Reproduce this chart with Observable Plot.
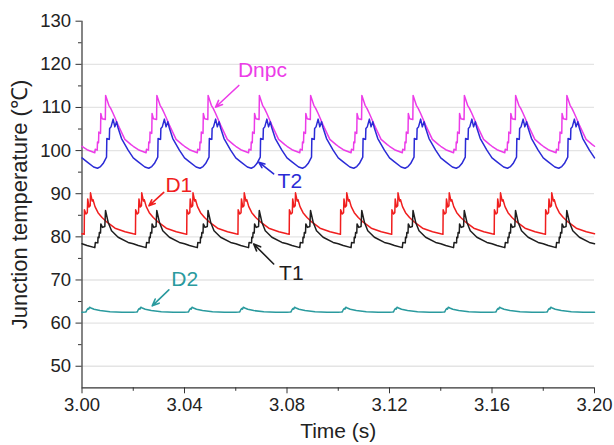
<!DOCTYPE html>
<html><head><meta charset="utf-8">
<script src="https://cdn.jsdelivr.net/npm/d3@7"></script>
<script src="https://cdn.jsdelivr.net/npm/@observablehq/plot@0.6"></script>
<style>body{margin:0;background:#fff;} svg{display:block;}</style>
</head><body><div id="chart"></div>
<script>
// ---- data ----
const cycleStarts = [3.00, 3.02, 3.04, 3.06, 3.08, 3.10, 3.12, 3.14, 3.16, 3.18];
const tEnd = 3.20;
// one switching cycle of each junction temperature, phase in ms within the 20 ms cycle
const phaseDnpc = [0, 1.95, 5.0, 5.16, 5.94, 6.05, 6.45, 6.56, 7.23, 7.34, 7.85, 9.1, 9.22, 10.47, 11.2, 12.15, 14.1, 16.72, 19.14];
const valueDnpc = [101.0, 100.2, 99.5, 100.3, 100.1, 102.0, 101.8, 104.3, 104.0, 108.6, 107.4, 107.2, 112.8, 110.5, 109.8, 108.6, 105.9, 102.6, 101.4];
const phaseT2 = [0, 1.95, 4.53, 6.05, 7.23, 8.24, 9.57, 9.69, 10.66, 10.78, 11.33, 12.15, 12.81, 13.48, 14.06, 15.43, 18.0];
const valueT2 = [98.3, 97.4, 96.2, 95.9, 96.3, 97.0, 98.5, 102.8, 102.6, 105.1, 105.5, 107.3, 105.5, 106.7, 105.3, 102.8, 100.1];
const phaseD1 = [0, 0.86, 0.94, 1.56, 2.07, 2.23, 2.73, 3.2, 3.32, 3.98, 4.3, 5.08, 6.25, 7.81, 9.77, 12.89, 16.8];
const valueD1 = [80.7, 80.6, 86.3, 85.3, 85.6, 88.8, 86.9, 87.2, 90.2, 88.3, 88.6, 87.0, 85.6, 84.5, 83.4, 82.0, 81.2];
const phaseT1 = [0, 1.95, 5.0, 5.2, 6.17, 6.25, 6.64, 6.76, 7.23, 7.34, 8.0, 8.9, 9.18, 10.2, 11.52, 14.1, 18.0];
const valueT1 = [78.4, 78.0, 77.5, 78.7, 78.6, 79.9, 79.8, 81.0, 80.9, 83.0, 82.2, 82.4, 86.1, 83.4, 81.4, 79.9, 78.7];
const phaseD2 = [0, 1.17, 1.56, 1.95, 2.34, 2.66, 2.93, 3.52, 4.69, 7.03, 10.94, 15.6];
const valueD2 = [62.5, 62.55, 62.6, 63.1, 63.4, 63.25, 63.7, 63.5, 63.2, 62.9, 62.65, 62.5];

const seriesNames = ["Dnpc", "T2", "D1", "T1", "D2"];
const seriesColors = ["#ec3ce8", "#2b2bd6", "#f01e1e", "#1e1e1e", "#2a9a9e"];

const xTicks = [3.00, 3.04, 3.08, 3.12, 3.16, 3.20];
const xMinor = [3.02, 3.06, 3.10, 3.14, 3.18];
const yTicks = [50, 60, 70, 80, 90, 100, 110, 120, 130];
const yMinor = [55, 65, 75, 85, 95, 105, 115, 125];
const yGrid = [50, 60, 70, 80, 90, 100, 110, 120];

// annotation labels and arrows (data coordinates)
const labelT = [3.0704, 3.0811, 3.0378, 3.0817, 3.0401];
const labelV = [118.7, 93.0, 91.9, 71.6, 70.2];
const arrowT1 = [3.0612, 3.0748, 3.0319, 3.0748, 3.0339];
const arrowV1 = [115.1, 94.6, 90.3, 73.7, 67.7];
const arrowT2 = [3.0521, 3.0690, 3.0261, 3.0670, 3.0274];
const arrowV2 = [110.05, 97.3, 87.2, 78.35, 64.0];

// ---- build tables ----
const cycles = {Dnpc: [phaseDnpc, valueDnpc], T2: [phaseT2, valueT2], D1: [phaseD1, valueD1], T1: [phaseT1, valueT1], D2: [phaseD2, valueD2]};
const rows = [];
for (const name of seriesNames) {
  const [ph, val] = cycles[name];
  for (const s of cycleStarts) for (let i = 0; i < ph.length; i++) rows.push({series: name, t: s + ph[i] / 1000, v: val[i]});
  rows.push({series: name, t: tEnd, v: val[0]});
}
const labels = seriesNames.map((n, i) => ({name: n, t: labelT[i], v: labelV[i], color: seriesColors[i]}));
const arrows = seriesNames.map((n, i) => ({t1: arrowT1[i], v1: arrowV1[i], t2: arrowT2[i], v2: arrowV2[i], color: seriesColors[i]}));

const font = "'Liberation Sans', Arial, sans-serif";
const plot = Plot.plot({
  width: 614, height: 445,
  marginLeft: 81.5, marginRight: 20, marginTop: 20.7, marginBottom: 57.7,
  style: {fontFamily: font, background: "#fff", color: "#222"},
  x: {domain: [3.00, 3.20]},
  y: {domain: [45, 130]},
  color: {domain: seriesNames, range: seriesColors},
  marks: [
    Plot.ruleY(yGrid, {stroke: "#e4e4e4", strokeWidth: 1.3}),
    Plot.axisY({ticks: yTicks, tickSize: 6, tickPadding: 5, fontSize: 18.5, label: null, stroke: "#333", color: "#222"}),
    Plot.axisY({ticks: yMinor, tickSize: 3.5, tickFormat: () => "", label: null, stroke: "#333"}),
    Plot.axisX({ticks: xTicks, tickSize: 6, tickPadding: 4, fontSize: 18.5, label: null, tickFormat: d3.format(".2f"), stroke: "#333", color: "#222"}),
    Plot.axisX({ticks: xMinor, tickSize: 3.5, tickFormat: () => "", label: null, stroke: "#333"}),
    Plot.ruleX([3.00], {stroke: "#333", strokeWidth: 1.2}),
    Plot.ruleY([45], {stroke: "#333", strokeWidth: 1.2}),
    Plot.line(rows, {x: "t", y: "v", z: "series", stroke: "series", strokeWidth: 1.5, curve: "linear"}),
    Plot.arrow(arrows, {x1: "t1", y1: "v1", x2: "t2", y2: "v2", stroke: "color", strokeWidth: 1.6, headLength: 7, headAngle: 45}),
    Plot.text(labels, {x: "t", y: "v", text: "name", fill: "color", fontSize: 21, textAnchor: "middle", lineAnchor: "middle"}),
    Plot.text(["Junction temperature (℃)"], {frameAnchor: "left", dx: -62, rotate: -90, fontSize: 22, fill: "#222", textAnchor: "middle", lineAnchor: "middle"}),
    Plot.text(["Time (s)"], {frameAnchor: "bottom", dy: 43, fontSize: 21, fill: "#222", textAnchor: "middle", lineAnchor: "middle"})
  ]
});
document.getElementById("chart").appendChild(plot);
</script>
</body></html>
